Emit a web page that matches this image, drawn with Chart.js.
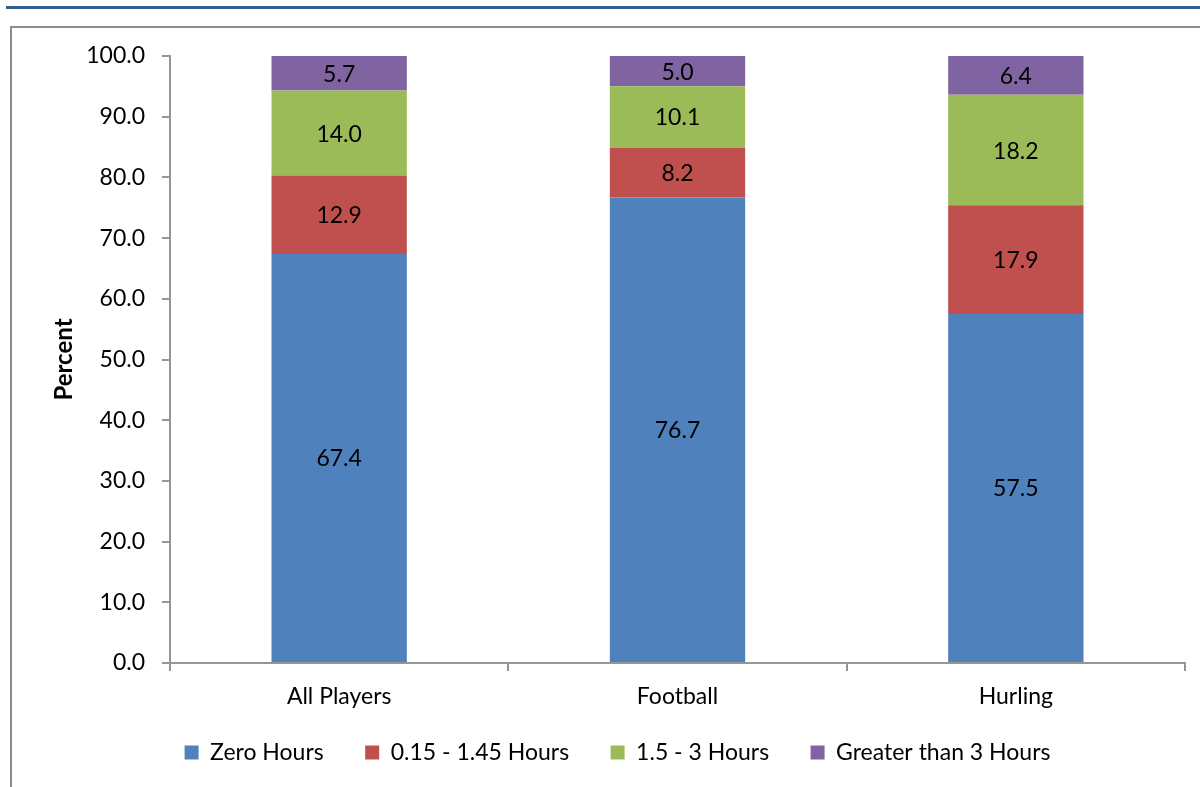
<!DOCTYPE html>
<html>
<head>
<meta charset="utf-8">
<script src="https://cdn.jsdelivr.net/npm/chart.js@4.4.1/dist/chart.umd.min.js"></script>
<style>
  body { margin: 0; background: #fff; }
  .wrap { position: relative; width: 1200px; height: 787px; overflow: hidden; }
  .topline { position: absolute; left: 6px; right: 0; top: 6px; height: 3px; background: #32608f; }
  .frame { position: absolute; left: 10px; top: 26px; width: 1200px; height: 800px; border-left: 2px solid #8c8c8c; border-top: 2px solid #8c8c8c; }
  canvas { position: absolute; left: 0; top: 0; }
</style>
</head>
<body>
<div class="wrap">
  <div class="topline"></div>
  <div class="frame"></div>
  <canvas id="myChart" width="1200" height="787"></canvas>
</div>
<script>
const categories = ['All Players', 'Football', 'Hurling'];
const seriesNames = ['Zero Hours', '0.15 - 1.45 Hours', '1.5 - 3 Hours', 'Greater than 3 Hours'];
const zeroHours = [67.4, 76.7, 57.5];
const lowHours = [12.9, 8.2, 17.9];
const midHours = [14.0, 10.1, 18.2];
const highHours = [5.7, 5.0, 6.4];
const yTicks = [0, 10, 20, 30, 40, 50, 60, 70, 80, 90, 100];

const fontFamily = 'Lato, "Open Sans", sans-serif';
const axisGrey = '#969696';
const bgColors = ['#4f81bd', '#c0504d', '#9bbb59', '#8064a2'];

// draws the value in the middle of every segment
const valueLabels = {
    id: 'valueLabels',
    afterDatasetsDraw(chart) {
        const ctx = chart.ctx;
        ctx.save();
        ctx.font = '23px ' + fontFamily;
        ctx.fillStyle = '#000';
        ctx.textAlign = 'center';
        ctx.textBaseline = 'middle';
        chart.data.datasets.forEach((ds, di) => {
            const meta = chart.getDatasetMeta(di);
            meta.data.forEach((bar, i) => {
                const y = (bar.y + bar.base) / 2;
                ctx.fillText(ds.data[i].toFixed(1), bar.x, y + 1);
            });
        });
        ctx.restore();
    }
};

const ctx = document.getElementById('myChart').getContext('2d');
new Chart(ctx, {
    type: 'bar',
    data: {
        labels: categories,
        datasets: [zeroHours, lowHours, midHours, highHours].map((d, index) => ({
            label: seriesNames[index],
            data: d,
            backgroundColor: bgColors[index],
            borderWidth: 0,
            categoryPercentage: 1,
            barPercentage: 0.4,
        }))
    },
    options: {
        responsive: false,
        animation: false,
        layout: { padding: { left: 50, right: 15, top: 56, bottom: 13 } },
        plugins: {
            tooltip: { enabled: false },
            legend: {
                position: 'bottom',
                labels: {
                    boxWidth: 14,
                    boxHeight: 14,
                    padding: 30,
                    color: '#000',
                    font: { size: 23, family: fontFamily },
                    // a little extra room between the items
                    generateLabels: (chart) => Chart.defaults.plugins.legend.labels.generateLabels(chart)
                        .map((item, i, all) => ({ ...item, text: i < all.length - 1 ? item.text + '\u2002' : item.text }))
                }
            }
        },
        scales: {
            x: {
                stacked: true,
                offset: true,
                afterFit: (scale) => { scale.height = 48; },
                grid: {
                    offset: true,
                    drawOnChartArea: false,
                    tickLength: 8,
                    color: axisGrey,
                    lineWidth: 2
                },
                border: { color: axisGrey, width: 2 },
                ticks: {
                    padding: 12,
                    color: '#000',
                    font: { size: 23, family: fontFamily }
                }
            },
            y: {
                stacked: true,
                min: 0,
                max: 100,
                afterBuildTicks: (scale) => { scale.ticks = yTicks.map(v => ({ value: v })); },
                afterFit: (scale) => { scale.width = 120; },
                grid: {
                    drawOnChartArea: false,
                    tickLength: 8,
                    color: axisGrey,
                    lineWidth: 2
                },
                border: { color: axisGrey, width: 2 },
                title: {
                    display: true,
                    text: 'Percent',
                    color: '#000',
                    padding: 0,
                    font: { size: 24, weight: 'bold', family: fontFamily }
                },
                ticks: {
                    padding: 17,
                    color: '#000',
                    font: { size: 23, family: fontFamily },
                    callback: (v) => Number(v).toFixed(1)
                }
            }
        }
    },
    plugins: [valueLabels]
});
</script>
</body>
</html>
